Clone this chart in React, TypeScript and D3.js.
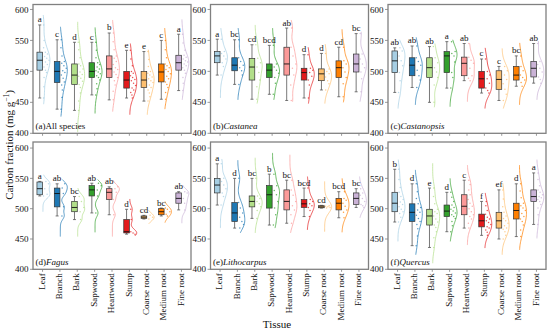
import React from "react";
import * as d3 from "d3";

const categories = ["Leaf", "Branch", "Bark", "Sapwood", "Heartwood", "Stump", "Coarse root", "Medium root", "Fine root"];
const palette = ["#a6cee3", "#1f78b4", "#b2df8a", "#33a02c", "#fb9a99", "#e31a1c", "#fdbf6f", "#ff7f00", "#cab2d6"];
const yTicks = [400, 450, 500, 550, 600];

// [min, q1, median, q3, max]
const boxA = [[457,502,518,531,575],[439,482,500,516,551],[437,479,494,512,547],[462,490,500,514,547],[454,490,504,525,562],[457,473,486,500,534],[452,474,486,500,532],[455,483,499,512,550],[469,502,514,526,560]];
const vioA = [[447,591],[427,572],[402,580],[432,571],[435,583],[430,545],[430,535],[439,570],[454,584]];
const lettersA = ["a","c","d","c","b","e","e","c","a"];
const ptsA = [
  [457,475,490,498,502,507,511,515,518,521,524,528,531,538,550,575],
  [439,458,470,478,483,489,494,498,501,505,509,513,516,525,538,551],
  [437,452,465,474,479,484,489,492,495,499,504,509,512,522,535,547],
  [462,472,480,486,490,493,496,499,501,504,507,511,514,522,534,547],
  [454,468,478,485,490,495,499,503,506,511,516,521,525,535,548,562],
  [457,462,466,470,473,477,481,485,487,490,493,497,500,509,520,534],
  [452,459,465,470,474,478,482,485,488,491,494,497,500,508,519,532],
  [455,466,474,479,483,488,492,496,500,503,506,509,512,522,535,550],
  [469,481,490,497,502,506,509,512,515,517,520,523,526,534,546,560],
];

const boxB = [[494,514,525,532,552],[479,501,510,522,551],[455,486,507,521,543],[463,490,502,512,542],[453,494,512,539,570],[457,486,498,505,527],[470,485,496,504,529],[459,490,506,517,539],[467,499,512,528,561]];
const vioB = [[457,570],[454,570],[448,575],[454,570],[451,583],[448,539],[448,544],[450,568],[451,564]];
const lettersB = ["a","bc","cd","bcd","ab","d","d","cd","bc"];
const ptsB = [
  [494,508,514,520,525,529,532,552],
  [479,494,501,506,510,516,522,551],
  [455,475,486,498,507,514,521,543],
  [463,481,490,497,502,507,512,542],
  [453,478,494,505,512,525,539,570],
  [457,478,486,492,498,502,505,527],
  [470,480,485,491,496,500,504,529],
  [459,480,490,499,506,512,517,539],
  [467,488,499,506,512,520,528,561],
];

const boxC = [[466,498,517,533,538],[474,493,510,522,541],[450,490,506,522,540],[473,498,525,532,548],[485,493,513,523,545],[465,473,488,500,520],[453,471,487,501,508],[476,486,494,508,525],[481,491,505,516,545]];
const vioC = [[440,551],[446,555],[442,545],[443,551],[451,545],[440,538],[440,537],[446,546],[454,549]];
const lettersC = ["ab","ab","ab","a","ab","c","c","bc","ab"];
const ptsC = [
  [466,485,498,509,517,525,533,538],
  [474,486,493,502,510,516,522,541],
  [450,478,490,499,506,514,522,540],
  [473,490,498,515,525,529,532,548],
  [485,489,493,505,513,518,523,545],
  [465,469,473,481,488,494,500,520],
  [453,463,471,480,487,494,501,508],
  [476,482,486,490,494,501,508,525],
  [481,487,491,499,505,511,516,545],
];

const boxD = [[521,523,533,544,545],[488,503,525,534,541],[482,495,502,512,520],[493,521,531,538,542],[490,515,527,533,536],[458,460,462,482,499],[483,484,486,488,489],[488,490,495,500,501],[498,509,517,526,528]];
const vioD = [[495,556],[454,548],[454,534],[461,548],[454,547],[455,516],[475,498],[477,512],[476,539]];
const lettersD = ["a","ab","bc","ab","ab","d","cd","bc","ab"];
const ptsD = [
  [521,524,533,541,545],
  [488,503,525,534,541],
  [482,495,502,512,520],
  [493,521,531,538,542],
  [490,515,527,533,536],
  [458,460,462,482,499],
  [483,486,489],
  [488,491,495,499,501],
  [498,509,517,526,528],
];

const boxE = [[506,526,539,550,574],[468,479,493,510,550],[484,503,512,521,550],[473,501,523,538,557],[476,498,512,531,547],[487,502,508,515,534],[501,501.5,503,505,505.5],[485,498,509,517,528],[502,507,517,526,533]];
const vioE = [[468,582],[460,580],[460,584],[468,592],[460,589],[465,553],[462,545],[461,550],[485,553]];
const lettersE = ["a","d","bc","b","bc","bcd","cd","bcd","bc"];
const ptsE = [
  [506,520,526,533,539,545,550,574],
  [468,474,479,486,493,501,510,550],
  [484,497,503,508,512,517,521,550],
  [473,490,501,512,523,530,538,557],
  [476,490,498,505,512,522,531,547],
  [487,497,502,505,508,512,515,534],
  [501,502,503,504,505],
  [485,494,498,504,509,514,517,528],
  [502,505,507,512,517,522,526,533],
];

const boxF = [[478,495,509,527,565],[439,479,494,508,541],[436,473,488,499,534],[462,487,496,506,527],[468,490,504,523,547],[456,470,480,491,512],[450,468,480,494,531],[454,483,497,509,541],[474,512,520,531,559]];
const vioF = [[446,581],[424,564],[410,575],[446,550],[440,572],[435,526],[424,542],[432,572],[451,581]];
const lettersF = ["b","d","e","d","c","f","ef","d","a"];
const ptsF = [
  [478,486,492,495,499,503,507,511,515,520,527,535,548,565],
  [439,455,467,474,479,484,489,494,498,502,508,517,528,541],
  [436,452,462,469,473,478,483,488,492,495,499,508,520,534],
  [462,472,479,484,487,490,493,496,499,502,506,512,519,527],
  [468,476,483,487,490,495,500,504,509,515,523,531,540,547],
  [456,461,465,468,470,474,477,480,483,486,491,497,505,512],
  [450,456,462,466,468,472,476,480,484,488,494,503,516,531],
  [454,465,473,479,483,487,492,497,501,505,509,518,529,541],
  [474,490,501,507,512,515,518,520,523,527,531,538,548,559],
];

const panels = [
  { tag: "(a)", name: "All species", italic: false, box: boxA, vio: vioA, letters: lettersA, pts: ptsA, bw: 11, col: 0, row: 0 },
  { tag: "(b)", name: "Castanea", italic: true, box: boxB, vio: vioB, letters: lettersB, pts: ptsB, bw: 11, col: 1, row: 0 },
  { tag: "(c)", name: "Castanopsis", italic: true, box: boxC, vio: vioC, letters: lettersC, pts: ptsC, bw: 11, col: 2, row: 0 },
  { tag: "(d)", name: "Fagus", italic: true, box: boxD, vio: vioD, letters: lettersD, pts: ptsD, bw: 6, col: 0, row: 1 },
  { tag: "(e)", name: "Lithocarpus", italic: true, box: boxE, vio: vioE, letters: lettersE, pts: ptsE, bw: 10, col: 1, row: 1 },
  { tag: "(f)", name: "Quercus", italic: true, box: boxF, vio: vioF, letters: lettersF, pts: ptsF, bw: 10, col: 2, row: 1 },
];

const FONT = "'Liberation Serif', 'Times New Roman', serif";
const colLeft = [33, 210.5, 388];
const panelW = 158;
const rowsGeo = [
  { top: 4.5, bottom: 133.3, max: 608 },
  { top: 142, bottom: 269.3, max: 610 },
];
const VW = 7;

function Panel({ p }: { p: any }) {
  const left = colLeft[p.col];
  const g = rowsGeo[p.row];
  const x = d3.scalePoint<string>().domain(categories).range([left, left + panelW]).padding(0.55);
  const y = d3.scaleLinear().domain([400, g.max]).range([g.bottom, g.top]);
  const items: any[] = [];
  categories.forEach((c, i) => {
    const color = palette[i];
    const xc = x(c) as number;
    const bc = xc - 2.8;
    const x0 = xc + 0.4;
    const [mn, q1, md, q3, mx] = p.box[i];
    const [lo, hi] = p.vio[i];
    const pts: number[] = p.pts[i];
    const dens = (v: number) => d3.sum(pts, (pt) => Math.exp(-0.5 * ((v - pt) / p.bw) ** 2));
    const ys = d3.range(0, 61).map((k) => lo + ((hi - lo) * k) / 60);
    const ds = ys.map(dens);
    const dmax = d3.max(ds) || 1;
    const wAt = (v: number) => (VW * dens(v)) / dmax;
    const line = d3.line<number>().x((v, k) => x0 + (VW * ds[k]) / dmax).y((v) => y(v)).curve(d3.curveBasis);
    items.push(
      <g key={c}>
        <path d={line(ys) || ""} fill="none" stroke={color} strokeWidth={0.8} opacity={0.9} />
        {pts.map((v, k) => {
          const f = (k * 0.618034 + i * 0.37) % 1;
          const w = wAt(v);
          return <circle key={k} cx={x0 + 0.6 + f * Math.max(w - 1.2, 0.3)} cy={y(v)} r={0.75} fill={color} opacity={0.75} />;
        })}
        <line x1={bc} x2={bc} y1={y(q3)} y2={y(mx)} stroke="#555" strokeWidth={0.8} />
        <line x1={bc} x2={bc} y1={y(q1)} y2={y(mn)} stroke="#555" strokeWidth={0.8} />
        <line x1={bc - 1.5} x2={bc + 1.5} y1={y(mx)} y2={y(mx)} stroke="#555" strokeWidth={0.8} />
        <line x1={bc - 1.5} x2={bc + 1.5} y1={y(mn)} y2={y(mn)} stroke="#555" strokeWidth={0.8} />
        <rect x={bc - 2.8} width={5.6} y={y(q3)} height={Math.max(y(q1) - y(q3), 0.8)} fill={color} stroke="#333" strokeWidth={0.7} />
        <line x1={bc - 2.8} x2={bc + 2.8} y1={y(md)} y2={y(md)} stroke="#111" strokeWidth={0.9} />
        <text x={bc} y={y(mx) - 2.5} textAnchor="middle" fontSize={9} fontFamily={FONT} fill="#111">{p.letters[i]}</text>
      </g>
    );
  });
  return (
    <g>
      {items}
      <rect x={left} y={g.top} width={panelW} height={g.bottom - g.top} fill="none" stroke="#808080" strokeWidth={1.3} />
      {yTicks.map((t) => (
        <g key={t}>
          <line x1={left - 3} x2={left} y1={y(t)} y2={y(t)} stroke="#808080" strokeWidth={0.8} />
          <text x={left - 4.5} y={y(t)} dy="0.35em" textAnchor="end" fontSize={9} fontFamily={FONT} fill="#111">{t}</text>
        </g>
      ))}
      {categories.map((c) => (
        <g key={c}>
          <line x1={x(c)} x2={x(c)} y1={g.bottom} y2={g.bottom + 2.5} stroke="#808080" strokeWidth={0.8} />
          {p.row === 1 && (
            <text transform={`translate(${(x(c) as number) - 1},${g.bottom + 4}) rotate(-90)`} dy="0.35em" textAnchor="end" fontSize={9} fontFamily={FONT} fill="#111">{c}</text>
          )}
        </g>
      ))}
      <text x={left + 2.5} y={g.bottom - 4} fontSize={9} fontFamily={FONT} fill="#111">
        {p.tag}
        <tspan fontStyle={p.italic ? "italic" : "normal"}>{p.name}</tspan>
      </text>
    </g>
  );
}

export default function App() {
  return (
    <svg width={550} height={332} style={{ position: "absolute", left: 0, top: 0, background: "#fff" }}>
      <rect width={550} height={332} fill="#fff" />
      {panels.map((p) => (
        <Panel key={p.tag} p={p} />
      ))}
      <text transform="translate(13,145) rotate(-90)" textAnchor="middle" fontSize={11} fontFamily={FONT} fill="#111">
        Carbon fraction (mg g<tspan fontSize={7.5} dy={-4}>−1</tspan><tspan dy={4}>)</tspan>
      </text>
      <text x={277} y={328} textAnchor="middle" fontSize={11} fontFamily={FONT} fill="#111">Tissue</text>
    </svg>
  );
}
